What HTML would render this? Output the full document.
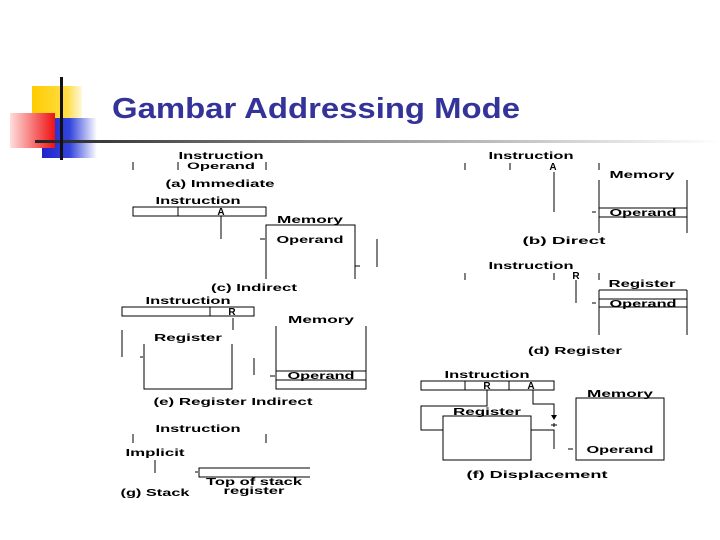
<!DOCTYPE html>
<html><head><meta charset="utf-8"><style>
html,body{margin:0;padding:0;background:#fff;}
svg{display:block}
text{font-family:"Liberation Sans",sans-serif;font-weight:bold;font-size:10px;fill:#000;}
</style></head><body>
<svg width="720" height="540" viewBox="0 0 720 540" xmlns="http://www.w3.org/2000/svg">
<defs>
<linearGradient id="bl" x1="0" x2="1"><stop offset="0" stop-color="#2222cc"/><stop offset="0.5" stop-color="#3344dd"/><stop offset="1" stop-color="#ffffff"/></linearGradient>
<linearGradient id="rd" x1="0" x2="1"><stop offset="0" stop-color="#ffdddd"/><stop offset="1" stop-color="#ee1111"/></linearGradient>
<linearGradient id="ye" x1="0" x2="1"><stop offset="0" stop-color="#ffcc00"/><stop offset="0.7" stop-color="#ffdd44"/><stop offset="1" stop-color="#fff8dd"/></linearGradient>
<linearGradient id="hl" x1="0" x2="1"><stop offset="0" stop-color="#222"/><stop offset="0.4" stop-color="#888"/><stop offset="1" stop-color="#fff"/></linearGradient>
</defs>
<rect x="32" y="86" width="50" height="32" fill="url(#ye)"/>
<rect x="42" y="118" width="55" height="40" fill="url(#bl)"/>
<rect x="10" y="113" width="45" height="35" fill="url(#rd)"/>
<rect x="35" y="140" width="685" height="3" fill="url(#hl)"/>
<rect x="60" y="77" width="3" height="83" fill="#111"/>
<text x="112" y="118" style="font-size:29px;fill:#333399" textLength="408" lengthAdjust="spacingAndGlyphs">Gambar Addressing Mode</text>

<g stroke="#000" stroke-width="1" fill="none">
<path d="M133 162V170M178 162V170M266 162V170"/>
<rect x="133" y="207" width="133" height="9"/><path d="M178 207V216M221 216V239"/>
<path d="M266 279V225H355V279M260 239H265M377 239V267M355 266H360"/>
<rect x="122" y="307" width="132" height="9"/><path d="M210 307V316M233 318V330"/>
<path d="M276 326V389H366V326M276 371H366M276 380H366M270 376H275"/>
<path d="M122 330V357M144 344V389H232V344M140 357H143M254 358V375"/>
<path d="M133 434V443M266 434V443M155 460V473M310 468H199V477H310M195 472H198"/>
<path d="M465 163V170M510 163V170M599 163V170M554 172V212"/>
<path d="M599 180V233M687 180V233M599 208H687M599 217H687M592 212H596"/>
<path d="M465 273V280M554 273V280M599 273V280M576 280V303"/>
<path d="M599 290H687M599 299H687M599 307H687M599 290V335M687 290V335M592 303H596"/>
<rect x="421" y="381" width="133" height="9"/><path d="M465 381V390M509 381V390"/>
<path d="M487 390V406H421V430H443"/>
<rect x="443" y="416" width="88" height="44"/>
<path d="M533 390V404H554V418M531 430H554V449"/>
<rect x="576" y="398" width="88" height="62"/>
<path d="M568 449H573"/>
</g>
<path d="M551 415L554 420L557 415Z" fill="#000"/>
<path d="M551 425H557M554 423V427" stroke="#000"/>

<g text-anchor="middle" lengthAdjust="spacingAndGlyphs">
<text x="221" y="159" textLength="85" lengthAdjust="spacingAndGlyphs">Instruction</text>
<text x="221" y="169" textLength="68" lengthAdjust="spacingAndGlyphs" style="font-size:9px">Operand</text>
<text x="220" y="187" textLength="109" lengthAdjust="spacingAndGlyphs">(a) Immediate</text>
<text x="198" y="204" textLength="85" lengthAdjust="spacingAndGlyphs">Instruction</text>
<text x="221" y="215">A</text>
<text x="310" y="223" textLength="66" lengthAdjust="spacingAndGlyphs">Memory</text>
<text x="310" y="243" textLength="67" lengthAdjust="spacingAndGlyphs">Operand</text>
<text x="254" y="291" textLength="86" lengthAdjust="spacingAndGlyphs">(c) Indirect</text>
<text x="188" y="304" textLength="85" lengthAdjust="spacingAndGlyphs">Instruction</text>
<text x="232" y="315">R</text>
<text x="321" y="323" textLength="66" lengthAdjust="spacingAndGlyphs">Memory</text>
<text x="188" y="341" textLength="68" lengthAdjust="spacingAndGlyphs">Register</text>
<text x="321" y="379" textLength="67" lengthAdjust="spacingAndGlyphs">Operand</text>
<text x="233" y="405" textLength="159" lengthAdjust="spacingAndGlyphs">(e) Register Indirect</text>
<text x="198" y="432" textLength="85" lengthAdjust="spacingAndGlyphs">Instruction</text>
<text x="155" y="456" textLength="59" lengthAdjust="spacingAndGlyphs">Implicit</text>
<text x="254" y="485" textLength="96" lengthAdjust="spacingAndGlyphs">Top of stack</text>
<text x="254" y="494" textLength="61" lengthAdjust="spacingAndGlyphs">register</text>
<text x="155" y="496" textLength="69" lengthAdjust="spacingAndGlyphs">(g) Stack</text>

<text x="531" y="159" textLength="85" lengthAdjust="spacingAndGlyphs">Instruction</text>
<text x="553" y="170">A</text>
<text x="642" y="178" textLength="65" lengthAdjust="spacingAndGlyphs">Memory</text>
<text x="643" y="216" textLength="67" lengthAdjust="spacingAndGlyphs">Operand</text>
<text x="564" y="244" textLength="83" lengthAdjust="spacingAndGlyphs">(b) Direct</text>
<text x="531" y="269" textLength="85" lengthAdjust="spacingAndGlyphs">Instruction</text>
<text x="576" y="279">R</text>
<text x="642" y="287" textLength="67" lengthAdjust="spacingAndGlyphs">Register</text>
<text x="643" y="307" textLength="67" lengthAdjust="spacingAndGlyphs">Operand</text>
<text x="575" y="354" textLength="94" lengthAdjust="spacingAndGlyphs">(d) Register</text>

<text x="487" y="378" textLength="85" lengthAdjust="spacingAndGlyphs">Instruction</text>
<text x="487" y="389">R</text>
<text x="531" y="389">A</text>
<text x="487" y="415" textLength="68" lengthAdjust="spacingAndGlyphs">Register</text>
<text x="620" y="397" textLength="66" lengthAdjust="spacingAndGlyphs">Memory</text>
<text x="620" y="453" textLength="67" lengthAdjust="spacingAndGlyphs">Operand</text>
<text x="537" y="478" textLength="141" lengthAdjust="spacingAndGlyphs">(f) Displacement</text>
</g>
</svg>
</body></html>
